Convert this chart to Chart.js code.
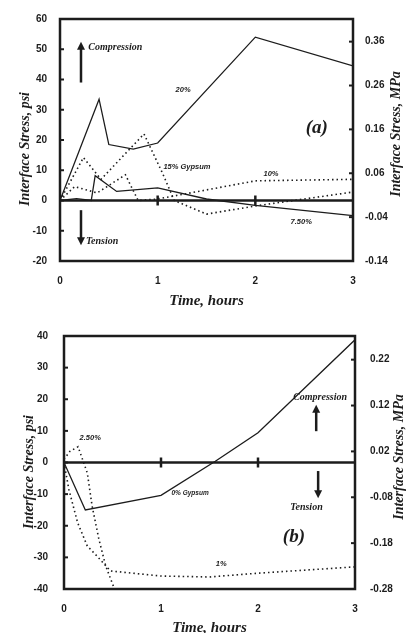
<!DOCTYPE html>
<html>
<head>
<meta charset="utf-8">
<script src="https://cdn.jsdelivr.net/npm/chart.js"></script>
<style>
  html, body { margin: 0; padding: 0; background: #fff; overflow: hidden; }
  #wrapA { position: absolute; left: 0; top: 0; width: 408px; height: 310px; }
  #wrapB { position: absolute; left: 0; top: 310px; width: 408px; height: 327px; }
</style>
</head>
<body>
<div id="wrapA"><canvas id="chartA"></canvas></div>
<div id="wrapB"><canvas id="chartB"></canvas></div>
<script>
const PSI_TO_MPA = 0.006895;
const timeTicks = [0, 1, 2, 3];

// panel (a)
const psiTicksA = [-20, -10, 0, 10, 20, 30, 40, 50, 60];
const mpaTicksA = [-0.14, -0.04, 0.06, 0.16, 0.26, 0.36];
const t20 = [0, 0.4, 0.5, 0.75, 1, 2, 3];
const s20 = [0, 33.5, 18.5, 17, 19, 54, 44.5];
const t15 = [0, 0.24, 0.42, 0.86, 1.05, 1.17, 1.5, 2, 3];
const s15 = [0, 14.2, 7, 22, 9, 0, -4.5, -1.8, 2.8];
const t10 = [0, 0.15, 0.38, 0.67, 0.8, 1, 2, 3];
const s10 = [0, 4.6, 2.5, 8.5, 0, 0.5, 6.5, 7];
const t75 = [0, 0.17, 0.32, 0.36, 0.58, 1, 1.5, 2, 3];
const s75 = [0, 0.6, 0, 8.2, 3, 4.2, 0.5, -1.6, -5];

// panel (b)
const psiTicksB = [-40, -30, -20, -10, 0, 10, 20, 30, 40];
const mpaTicksB = [-0.28, -0.18, -0.08, 0.02, 0.12, 0.22];
const t0 = [0, 0.22, 1, 1.56, 2, 3];
const s0 = [0, -15, -10.4, 0.4, 9.4, 38.8];
const t25 = [0, 0.06, 0.145, 0.24, 0.29, 0.36, 0.43, 0.52];
const s25 = [1, 3.5, 5, -3.3, -13.8, -24.3, -32.7, -40];
const t1 = [0, 0.05, 0.14, 0.24, 0.34, 0.48, 1, 1.5, 2, 3];
const s1 = [0, -8.5, -19, -26.4, -29.6, -34.3, -35.9, -36.2, -35, -33];

const ink = '#1c1c1c';
const tickFont = { family: 'Liberation Sans', size: 10, weight: 'bold' };
const titleFont = 'bold italic 14px "Liberation Serif"';

function pts(ts, vs) {
  return ts.map((t, i) => ({ x: t, y: vs[i] }));
}

function solid(ts, vs) {
  return { data: pts(ts, vs), borderColor: ink, borderWidth: 1.3, pointRadius: 0, tension: 0 };
}
function dotted(ts, vs) {
  return { data: pts(ts, vs), borderColor: ink, borderWidth: 1.6, borderDash: [1.5, 3], pointRadius: 0, tension: 0 };
}

function line(ctx, x1, y1, x2, y2) {
  ctx.beginPath(); ctx.moveTo(x1, y1); ctx.lineTo(x2, y2); ctx.stroke();
}

const decor = {
  id: 'decor',
  beforeDatasetsDraw(chart, args, o) {
    const { ctx, chartArea: a, scales: { x, y, y2 } } = chart;
    ctx.save();
    ctx.strokeStyle = ink;
    const y0 = y.getPixelForValue(0);
    ctx.lineWidth = 2.5;
    line(ctx, a.left, y0, a.right, y0);
    [1, 2].forEach(t => {
      const px = x.getPixelForValue(t);
      line(ctx, px, y0 - 5, px, y0 + 5);
    });
    ctx.lineWidth = 2;
    y.ticks.forEach(tk => {
      const py = y.getPixelForValue(tk.value);
      line(ctx, a.left, py, a.left + 4, py);
    });
    y2.ticks.forEach(tk => {
      const py = y2.getPixelForValue(tk.value);
      line(ctx, a.right - 4, py, a.right, py);
    });
    ctx.restore();
  },
  afterDraw(chart, args, o) {
    const { ctx, chartArea: a, scales: { x, y } } = chart;
    ctx.save();
    ctx.strokeStyle = ink;
    ctx.fillStyle = ink;
    ctx.lineWidth = 2.5;
    ctx.strokeRect(a.left, a.top, a.right - a.left, a.bottom - a.top);

    // arrows
    o.arrows.forEach(ar => {
      const px = x.getPixelForValue(ar.t);
      const pFrom = y.getPixelForValue(ar.from);
      const pTip = y.getPixelForValue(ar.to);
      const dir = pTip < pFrom ? 1 : -1;
      ctx.lineWidth = 2.5;
      line(ctx, px, pFrom, px, pTip + dir * 6);
      ctx.beginPath();
      ctx.moveTo(px, pTip);
      ctx.lineTo(px - 4, pTip + dir * 8);
      ctx.lineTo(px + 4, pTip + dir * 8);
      ctx.closePath();
      ctx.fill();
    });

    // text notes
    ctx.textBaseline = 'middle';
    o.notes.forEach(n => {
      ctx.font = n.font;
      ctx.textAlign = n.align || 'center';
      ctx.fillText(n.text, x.getPixelForValue(n.t), y.getPixelForValue(n.v));
    });

    // vertical axis titles (both read bottom to top)
    ctx.font = titleFont;
    ctx.textAlign = 'center';
    o.titles.forEach(tt => {
      ctx.save();
      ctx.translate(tt.x, tt.y);
      ctx.rotate(-Math.PI / 2);
      ctx.fillText(tt.text, 0, 0);
      ctx.restore();
    });
    ctx.restore();
  }
};

function makeChart(id, cfg) {
  return new Chart(document.getElementById(id), {
    type: 'line',
    data: { datasets: cfg.datasets },
    options: {
      responsive: true,
      maintainAspectRatio: false,
      animation: false,
      layout: { padding: { top: cfg.top, left: 0, right: 0, bottom: 0 } },
      plugins: {
        legend: { display: false },
        tooltip: { enabled: false },
        decor: cfg.decor
      },
      scales: {
        x: {
          type: 'linear', min: 0, max: 3,
          afterBuildTicks: s => { s.ticks = timeTicks.map(v => ({ value: v })); },
          afterFit: s => { s.height = cfg.xh; },
          ticks: { font: tickFont, color: ink, padding: 14, autoSkip: false, maxRotation: 0 },
          grid: { display: false, drawTicks: false },
          border: { display: false },
          title: {
            display: true, text: 'Time, hours', color: ink,
            font: { family: 'Liberation Serif', size: 15, weight: 'bold', style: 'italic' },
            padding: { top: 0, bottom: 0 }
          }
        },
        y: {
          position: 'left', min: cfg.psiTicks[0], max: cfg.psiTicks[cfg.psiTicks.length - 1],
          afterBuildTicks: s => { s.ticks = cfg.psiTicks.map(v => ({ value: v })); },
          afterFit: s => { s.width = cfg.lw; },
          ticks: { font: tickFont, color: ink, padding: cfg.lpad, autoSkip: false },
          grid: { display: false, drawTicks: false },
          border: { display: false }
        },
        y2: {
          position: 'right', min: cfg.mpaMin, max: cfg.mpaMin + 80 * PSI_TO_MPA,
          afterBuildTicks: s => { s.ticks = cfg.mpaTicks.map(v => ({ value: v })); },
          afterFit: s => { s.width = cfg.rw; },
          ticks: { font: tickFont, color: ink, padding: cfg.rpad, autoSkip: false,
                   callback: v => Number(v).toFixed(2) },
          grid: { display: false, drawTicks: false },
          border: { display: false }
        }
      }
    },
    plugins: [decor]
  });
}

const noteFont = 'bold italic 7.5px "Liberation Sans"';
const wordFont = 'bold italic 10px "Liberation Serif"';
const panelFont = 'bold italic 19px "Liberation Serif"';

makeChart('chartA', {
  top: 7, xh: 49, lw: 60, rw: 55, lpad: 13, rpad: 12,
  psiTicks: psiTicksA, mpaTicks: mpaTicksA, mpaMin: -0.14,
  datasets: [solid(t20, s20), dotted(t15, s15), dotted(t10, s10), solid(t75, s75)],
  decor: {
    arrows: [{ t: 0.215, from: 39, to: 52.5 }, { t: 0.215, from: -3.2, to: -14.8 }],
    notes: [
      { text: 'Compression', t: 0.29, v: 50.5, font: wordFont, align: 'left' },
      { text: 'Tension', t: 0.265, v: -13.4, font: wordFont, align: 'left' },
      { text: '(a)', t: 2.63, v: 24, font: panelFont },
      { text: '20%', t: 1.26, v: 36.4, font: noteFont },
      { text: '15% Gypsum', t: 1.3, v: 11.2, font: noteFont },
      { text: '10%', t: 2.16, v: 8.8, font: noteFont },
      { text: '7.50%', t: 2.47, v: -7.1, font: noteFont }
    ],
    titles: [
      { text: 'Interface Stress, psi', x: 25, y: 149 },
      { text: 'Interface Stress, MPa', x: 396, y: 134 }
    ]
  }
});

makeChart('chartB', {
  top: 26, xh: 48, lw: 64, rw: 53, lpad: 16, rpad: 15,
  psiTicks: psiTicksB, mpaTicks: mpaTicksB, mpaMin: -0.28,
  datasets: [solid(t0, s0), dotted(t25, s25), dotted(t1, s1)],
  decor: {
    arrows: [{ t: 2.6, from: 9.9, to: 18.3 }, { t: 2.62, from: -2.7, to: -11.3 }],
    notes: [
      { text: 'Compression', t: 2.64, v: 20.7, font: wordFont },
      { text: 'Tension', t: 2.5, v: -14.3, font: wordFont },
      { text: '(b)', t: 2.37, v: -23.6, font: panelFont },
      { text: '2.50%', t: 0.27, v: 7.8, font: noteFont },
      { text: '0% Gypsum', t: 1.3, v: -9.6, font: 'bold italic 6.5px "Liberation Sans"' },
      { text: '1%', t: 1.62, v: -32.2, font: noteFont }
    ],
    titles: [
      { text: 'Interface Stress, psi', x: 29, y: 162 },
      { text: 'Interface Stress, MPa', x: 399, y: 147 }
    ]
  }
});
</script>
</body>
</html>
